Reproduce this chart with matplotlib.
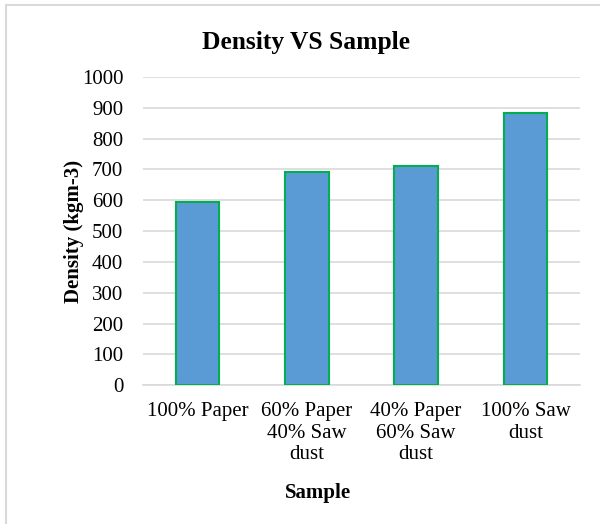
import matplotlib
matplotlib.use("Agg")
import matplotlib.pyplot as plt
from matplotlib.lines import Line2D

categories = ["100% Paper", "60% Paper\n40% Saw\ndust", "40% Paper\n60% Saw\ndust", "100% Saw\ndust"]
density = [594, 691, 712, 882]
yticks = [0, 100, 200, 300, 400, 500, 600, 700, 800, 900, 1000]

plt.rcParams['font.family'] = ['Liberation Serif', 'DejaVu Serif']

fig = plt.figure(figsize=(6, 5.24), dpi=100)
ax = fig.add_axes([0.238, 0.265, 0.729, 0.588])

x = list(range(len(categories)))
ax.bar(x, density, width=0.4, color='#5B9BD5', edgecolor='#00B050', linewidth=1.5, zorder=3)

ax.set_ylim(0, 1000)
ax.set_xlim(-0.5, len(categories) - 0.5)
ax.set_yticks(yticks)
ax.set_yticklabels([str(v) for v in yticks], fontsize=15)
ax.set_xticks(x)
ax.set_xticklabels(categories, fontsize=15, linespacing=1.2)
ax.tick_params(axis='y', length=0, pad=14)
ax.tick_params(axis='x', length=0, pad=12)
ax.grid(axis='y', color='#D9D9D9', linewidth=1.2, zorder=0)
for s in ['top', 'right', 'left']:
    ax.spines[s].set_visible(False)
ax.spines['bottom'].set_color('#D9D9D9')
ax.spines['bottom'].set_linewidth(1.2)

ax.set_ylabel("Density (kgm-3)", fontsize=15, fontweight='bold')
ax.yaxis.label.set_va('center')
ax.yaxis.set_label_coords(-0.158, 0.5)
ax.set_xlabel("Sample", fontsize=15, fontweight='bold')
ax.xaxis.label.set_va('center')
ax.xaxis.set_label_coords(0.40, -0.35)
fig.text(0.51, 0.918, "Density VS Sample", ha='center', va='center', fontsize=18.4, fontweight='bold')

fig.add_artist(Line2D([0.01, 0.01], [0, 0.99], transform=fig.transFigure, color='#D9D9D9', linewidth=1.5))
fig.add_artist(Line2D([0.01, 1.0], [0.99, 0.99], transform=fig.transFigure, color='#D9D9D9', linewidth=1.5))

fig.savefig("out.png", dpi=100, facecolor='white')
